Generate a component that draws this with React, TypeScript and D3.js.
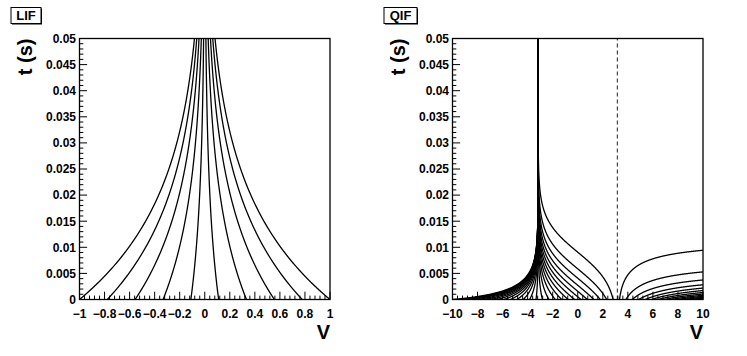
import React from "react";
import * as d3 from "d3";

// ---- data ----
const lifV0 = [-1, -0.778, -0.556, -0.333, -0.111, 0.111, 0.333, 0.556, 0.778, 1];
const lifTau = 0.02;
const qifV0 = [
  -10, -9.487, -8.974, -8.462, -7.949, -7.436, -6.923, -6.41, -5.897, -5.385,
  -4.872, -4.359, -3.846, -3.333, -2.821, -2.308, -1.795, -1.282, -0.769, -0.256,
  0.256, 0.769, 1.282, 1.795, 2.308, 2.821, 3.333, 3.846, 4.359, 4.872,
  5.385, 5.897, 6.41, 6.923, 7.436, 7.949, 8.462, 8.974, 9.487, 10,
];
const qifTau = 0.02;
const qifThreshold = 3.162;
const yTicks = [0, 0.005, 0.01, 0.015, 0.02, 0.025, 0.03, 0.035, 0.04, 0.045, 0.05];
const yTickLabels = ["0", "0.005", "0.01", "0.015", "0.02", "0.025", "0.03", "0.035", "0.04", "0.045", "0.05"];
const lifXTicks = [-1, -0.8, -0.6, -0.4, -0.2, 0, 0.2, 0.4, 0.6, 0.8, 1];
const lifXTickLabels = ["\u22121", "\u22120.8", "\u22120.6", "\u22120.4", "\u22120.2", "0", "0.2", "0.4", "0.6", "0.8", "1"];
const qifXTicks = [-10, -8, -6, -4, -2, 0, 2, 4, 6, 8, 10];
const qifXTickLabels = ["\u221210", "\u22128", "\u22126", "\u22124", "\u22122", "0", "2", "4", "6", "8", "10"];

const FONT = "'Liberation Sans', Arial, Helvetica, sans-serif";
const FRAME = { top: 38.5, bottom: 299.5, left: 79.5, right: 330 };
const T_MAX = 0.05;

type Pt = [number, number]; // [V, t]

function lifCurve(v0: number): Pt[] {
  const pts: Pt[] = [];
  const n = 300;
  for (let i = 0; i <= n; i++) {
    const t = (T_MAX * i) / n;
    pts.push([v0 * Math.exp(-t / lifTau), t]);
  }
  return pts;
}

function qifCurve(v0: number, vMax: number): Pt[] {
  const a = qifThreshold;
  const k = (2 * a) / qifTau;
  const u0 = (v0 - a) / (v0 + a);
  const pts: Pt[] = [];
  if (v0 > a) {
    if (v0 >= vMax) return [[v0, 0]];
    const n = 600;
    for (let i = 0; i <= n; i++) {
      const v = v0 + ((vMax - v0) * i) / n;
      const u = (v - a) / (v + a);
      const t = Math.log(u / u0) / k;
      if (t > T_MAX) break;
      pts.push([v, t]);
    }
    return pts;
  }
  const n = 2000;
  for (let i = 0; i <= n; i++) {
    const t = (T_MAX * i) / n;
    const u = u0 * Math.exp(k * t);
    pts.push([(a * (1 + u)) / (1 - u), t]);
  }
  return pts;
}

function Panel(props: {
  ox: number;
  title: string;
  titleW: number;
  xDomain: [number, number];
  xTicks: number[];
  xTickLabels: string[];
  xMinor: number;
  curves: Pt[][];
  dashedAt?: number;
  id: string;
}) {
  const { ox, title, titleW, xDomain, xTicks, xTickLabels, xMinor, curves, dashedAt, id } = props;
  const x = d3.scaleLinear().domain(xDomain).range([FRAME.left, FRAME.right]);
  const y = d3.scaleLinear().domain([0, T_MAX]).range([FRAME.bottom, FRAME.top]);
  const line = d3
    .line<Pt>()
    .x((d) => x(d[0]))
    .y((d) => y(d[1]));

  const majorLenX = 7.8;
  const majorLenY = 7.6;
  const xMinorTicks: number[] = [];
  for (let i = 0; i < xTicks.length - 1; i++) {
    const step = (xTicks[i + 1] - xTicks[i]) / xMinor;
    for (let j = 1; j < xMinor; j++) xMinorTicks.push(xTicks[i] + j * step);
  }
  const yMinorTicks: number[] = [];
  for (let i = 0; i < yTicks.length - 1; i++) {
    const step = (yTicks[i + 1] - yTicks[i]) / 5;
    for (let j = 1; j < 5; j++) yMinorTicks.push(yTicks[i] + j * step);
  }

  return (
    <g transform={`translate(${ox},0)`}>
      <defs>
        <clipPath id={id}>
          <rect
            x={FRAME.left}
            y={FRAME.top}
            width={FRAME.right - FRAME.left}
            height={FRAME.bottom - FRAME.top}
          />
        </clipPath>
      </defs>
      {/* title box */}
      <rect x={12} y={8.5} width={titleW} height={16} fill="#000" />
      <rect x={11} y={7.5} width={titleW} height={16} fill="#fff" stroke="#000" strokeWidth={1} />
      <text
        x={11 + titleW / 2}
        y={20.3}
        textAnchor="middle"
        fontFamily={FONT}
        fontWeight="bold"
        fontSize={13}
      >
        {title}
      </text>

      {/* curves */}
      <g clipPath={`url(#${id})`}>
        {curves.map((c, i) => (
          <path key={i} d={line(c) || ""} fill="none" stroke="#000" strokeWidth={1.3} />
        ))}
        {dashedAt !== undefined && (
          <line
            x1={x(dashedAt)}
            x2={x(dashedAt)}
            y1={y(0)}
            y2={y(T_MAX)}
            stroke="#333"
            strokeWidth={1.1}
            strokeDasharray="4 3"
          />
        )}
      </g>

      {/* frame */}
      <rect
        x={FRAME.left}
        y={FRAME.top}
        width={FRAME.right - FRAME.left}
        height={FRAME.bottom - FRAME.top}
        fill="none"
        stroke="#000"
        strokeWidth={1.3}
      />

      {/* x ticks */}
      {xTicks.map((v, i) => (
        <line key={"xM" + i} x1={x(v)} x2={x(v)} y1={FRAME.bottom} y2={FRAME.bottom - majorLenX} stroke="#000" strokeWidth={1} />
      ))}
      {xMinorTicks.map((v, i) => (
        <line key={"xm" + i} x1={x(v)} x2={x(v)} y1={FRAME.bottom} y2={FRAME.bottom - majorLenX / 2} stroke="#000" strokeWidth={1} />
      ))}
      {xTicks.map((v, i) => (
        <text
          key={"xl" + i}
          x={x(v)}
          y={318}
          textAnchor="middle"
          fontFamily={FONT}
          fontWeight="bold"
          fontSize={12}
        >
          {xTickLabels[i]}
        </text>
      ))}

      {/* y ticks */}
      {yTicks.map((v, i) => (
        <line key={"yM" + i} x1={FRAME.left} x2={FRAME.left + majorLenY} y1={y(v)} y2={y(v)} stroke="#000" strokeWidth={1} />
      ))}
      {yMinorTicks.map((v, i) => (
        <line key={"ym" + i} x1={FRAME.left} x2={FRAME.left + majorLenY / 2} y1={y(v)} y2={y(v)} stroke="#000" strokeWidth={1} />
      ))}
      {yTicks.map((v, i) => (
        <text
          key={"yl" + i}
          x={FRAME.left - 3.5}
          y={y(v) + 4.3}
          textAnchor="end"
          fontFamily={FONT}
          fontWeight="bold"
          fontSize={12}
        >
          {yTickLabels[i]}
        </text>
      ))}

      {/* axis titles */}
      <text
        x={FRAME.right}
        y={338.5}
        textAnchor="end"
        fontFamily={FONT}
        fontWeight="bold"
        fontSize={20}
      >
        V
      </text>
      <text
        transform={`translate(32,${FRAME.top}) rotate(-90)`}
        textAnchor="end"
        fontFamily={FONT}
        fontWeight="bold"
        fontSize={20}
      >
        t (s)
      </text>
    </g>
  );
}

export default function App() {
  const lifCurves = lifV0.map((v) => lifCurve(v));
  const qifCurves = qifV0.map((v) => qifCurve(v, 10));
  return (
    <svg
      width={747}
      height={356}
      viewBox="0 0 747 356"
      style={{ position: "absolute", left: 0, top: 0, background: "#fff" }}
    >
      <rect x={0} y={0} width={747} height={356} fill="#fff" />
      <Panel
        id="clipLIF"
        ox={0}
        title="LIF"
        titleW={30}
        xDomain={[-1, 1]}
        xTicks={lifXTicks}
        xTickLabels={lifXTickLabels}
        xMinor={5}
        curves={lifCurves}
      />
      <Panel
        id="clipQIF"
        ox={373}
        title="QIF"
        titleW={33}
        xDomain={[-10, 10]}
        xTicks={qifXTicks}
        xTickLabels={qifXTickLabels}
        xMinor={5}
        curves={qifCurves}
        dashedAt={qifThreshold}
      />
    </svg>
  );
}
